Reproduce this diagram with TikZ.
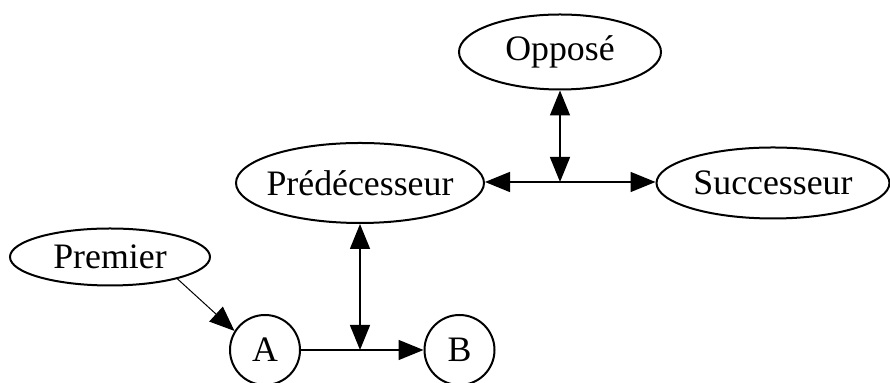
\documentclass[tikz,border=0pt]{standalone}
\usepackage{fontspec}
\setmainfont{Liberation Serif}
\usetikzlibrary{arrows.meta,shapes.geometric}

\begin{document}
\begin{tikzpicture}[x=1pt,y=1pt,
  etat/.style={draw,ellipse,line width=1pt,inner sep=0pt,font=\fontsize{17.9}{20}\selectfont},
  rond/.style={draw,circle,line width=1pt,inner sep=0pt,minimum size=35pt,font=\fontsize{17.9}{20}\selectfont},
  lien/.style={line width=0.75pt,-{Triangle[length=12.5pt,width=10pt]}},
  lienbi/.style={line width=0.75pt,{Triangle[length=12.5pt,width=10pt]}-{Triangle[length=12.5pt,width=10pt]}}]
\useasboundingbox (0,0) rectangle (445,-191.5);
% les noeuds
\node[etat,minimum width=101pt,minimum height=37.5pt] (oppose) at (280,-26) {Opposé};
\node[etat,minimum width=124pt,minimum height=40pt,inner xsep=-3pt] (pred) at (180,-91.5) {Prédécesseur};
\node[etat,minimum width=116.5pt,minimum height=35.5pt] (succ) at (386.5,-91.5) {Successeur};
\node[etat,minimum width=100pt,minimum height=28.5pt] (premier) at (55,-128.5) {Premier};
\node[rond] (a) at (132.5,-175) {A};
\node[rond] (b) at (229.75,-175) {B};
\coordinate (jhaut) at (280,-91);
\coordinate (jbas) at (180,-175);
% les liens
\draw[line width=0.5pt,-{Triangle[length=12.5pt,width=10pt]}] (premier.-18) -- (a.148);
\draw[line width=0.75pt] (a) -- (jbas);
\draw[lien] (jbas) -- (b);
\draw[lienbi] (pred) -- (jbas);
\draw[lien] (jhaut) -- (pred.east |- jhaut);
\draw[lien] (jhaut) -- (succ.west |- jhaut);
\draw[lienbi] (oppose) -- (jhaut);
\end{tikzpicture}
\end{document}
